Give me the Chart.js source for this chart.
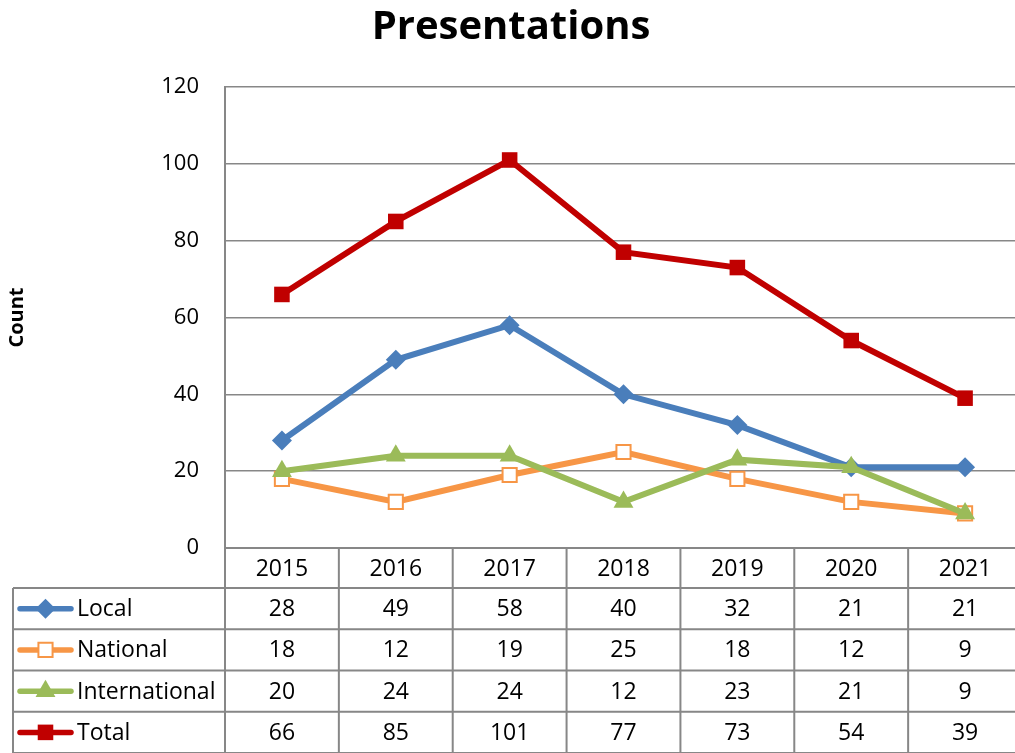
<!DOCTYPE html>
<html>
<head>
<meta charset="utf-8">
<script src="https://cdn.jsdelivr.net/npm/chart.js@4/dist/chart.umd.min.js"></script>
<style>
html,body{margin:0;padding:0;overflow:hidden;background:#fff;}
#wrap{width:1024px;height:753px;position:relative;}
canvas{display:block;}
</style>
</head>
<body>
<div id="wrap"><canvas id="c" width="1024" height="753" style="width:1024px;height:753px"></canvas></div>
<script>
const categories = ['2015','2016','2017','2018','2019','2020','2021'];
const localVals = [28,49,58,40,32,21,21];
const nationalVals = [18,12,19,25,18,12,9];
const internationalVals = [20,24,24,12,23,21,9];
const totalVals = [66,85,101,77,73,54,39];
const seriesNames = ['Local','National','International','Total'];
const yMin = 0, yMax = 120, yStep = 20;

const FONT = "'Open Sans', 'Noto Sans', sans-serif";
const GRID = '#878787';
Chart.defaults.font.family = FONT;
Chart.defaults.color = '#000';

function drawMarker(ctx, style, x, y, r, fill, stroke, bw) {
  ctx.save();
  ctx.beginPath();
  if (style === 'rectRot') {
    ctx.moveTo(x - r, y); ctx.lineTo(x, y - r); ctx.lineTo(x + r, y); ctx.lineTo(x, y + r); ctx.closePath();
  } else if (style === 'rect') {
    const s = r * Math.SQRT1_2;
    ctx.rect(x - s, y - s, 2 * s, 2 * s);
  } else if (style === 'triangle') {
    const a = 0;
    ctx.moveTo(x + Math.sin(a) * r, y - Math.cos(a) * r);
    ctx.lineTo(x + Math.sin(a + 2 * Math.PI / 3) * r, y - Math.cos(a + 2 * Math.PI / 3) * r);
    ctx.lineTo(x + Math.sin(a + 4 * Math.PI / 3) * r, y - Math.cos(a + 4 * Math.PI / 3) * r);
    ctx.closePath();
  }
  ctx.fillStyle = fill; ctx.fill();
  if (bw > 0) { ctx.lineWidth = bw; ctx.strokeStyle = stroke; ctx.stroke(); }
  ctx.restore();
}

const tablePlugin = {
  id: 'dataTable',
  afterDraw(chart) {
    const ctx = chart.ctx;
    const area = chart.chartArea;
    const xs = chart.scales.x;
    const n = categories.length;
    const w = (area.right - area.left) / n;
    const top = area.bottom;
    const headerH = 40;
    const rowH = (chart.height - top - headerH) / 4;
    const legLeft = 13;
    const right = area.right;
    ctx.save();
    ctx.strokeStyle = GRID;
    ctx.lineWidth = 2;
    ctx.beginPath();
    ctx.moveTo(area.left, top); ctx.lineTo(right, top);
    for (let r = 0; r <= 4; r++) {
      const y = top + headerH + r * rowH;
      ctx.moveTo(legLeft, y); ctx.lineTo(right, y);
    }
    for (let i = 0; i <= n; i++) {
      const x = area.left + i * w;
      ctx.moveTo(x, top); ctx.lineTo(x, chart.height);
    }
    ctx.moveTo(legLeft, top + headerH); ctx.lineTo(legLeft, chart.height);
    ctx.stroke();

    ctx.fillStyle = '#000';
    ctx.font = '23px ' + FONT;
    ctx.textAlign = 'center';
    ctx.textBaseline = 'middle';
    for (let i = 0; i < n; i++) {
      const cx = xs.getPixelForValue(i);
      ctx.fillText(categories[i], cx, top + headerH / 2 + 1);
    }
    chart.data.datasets.forEach((ds, r) => {
      const cy = top + headerH + r * rowH + rowH / 2 + 1;
      for (let i = 0; i < n; i++) {
        const cx = xs.getPixelForValue(i);
        ctx.fillText(String(ds.data[i]), cx, cy);
      }
      ctx.save();
      ctx.strokeStyle = ds.borderColor;
      ctx.lineWidth = 5.5;
      ctx.lineCap = 'round';
      ctx.beginPath();
      ctx.moveTo(20, cy - 1); ctx.lineTo(71, cy - 1);
      ctx.stroke();
      ctx.restore();
      drawMarker(ctx, ds.pointStyle, 45.5, cy - 1, ds.pointRadius, ds.pointBackgroundColor, ds.pointBorderColor, ds.pointBorderWidth);
      ctx.textAlign = 'left';
      ctx.fillStyle = '#000';
      ctx.fillText(ds.label, 77, cy);
      ctx.textAlign = 'center';
    });
    ctx.restore();
  }
};

const mk = (label, data, color, style, r, fill, bw, order) => ({
  label, data, borderColor: color, backgroundColor: color, borderWidth: 6,
  pointStyle: style, pointRadius: r, pointHoverRadius: r,
  pointBackgroundColor: fill, pointBorderColor: color, pointBorderWidth: bw,
  tension: 0, fill: false, order
});

new Chart(document.getElementById('c'), {
  type: 'line',
  data: {
    labels: categories,
    datasets: [
      mk(seriesNames[0], localVals, '#4A7EBB', 'rectRot', 10, '#4A7EBB', 0, 4),
      mk(seriesNames[1], nationalVals, '#F79646', 'rect', 10, '#FFFFFF', 2, 3),
      mk(seriesNames[2], internationalVals, '#9BBB59', 'triangle', 11.5, '#9BBB59', 0, 2),
      mk(seriesNames[3], totalVals, '#C00000', 'rect', 11, '#C00000', 0, 1)
    ]
  },
  options: {
    responsive: false,
    maintainAspectRatio: false,
    animation: false,
    layout: { autoPadding: false, padding: { left: 0, right: 2, top: 0, bottom: 205 } },
    plugins: {
      legend: { display: false },
      tooltip: { enabled: false },
      title: {
        display: true,
        text: 'Presentations',
        font: { size: 40, weight: 'bold', family: FONT },
        color: '#000',
        padding: { top: 4, bottom: 35 }
      }
    },
    scales: {
      x: { type: 'category', display: false, offset: true },
      y: {
        min: yMin, max: yMax,
        ticks: { stepSize: yStep, padding: 26, font: { size: 22, family: FONT }, color: '#000' },
        grid: { color: GRID, lineWidth: 1.5, drawTicks: false },
        border: { color: GRID, width: 2 },
        title: { display: true, text: 'Count', font: { size: 20, weight: 'bold', family: FONT }, color: '#000', padding: { top: 5, bottom: 0 } },
        afterFit(scale) { scale.width = 225; }
      }
    }
  },
  plugins: [tablePlugin]
});
</script>
</body>
</html>
